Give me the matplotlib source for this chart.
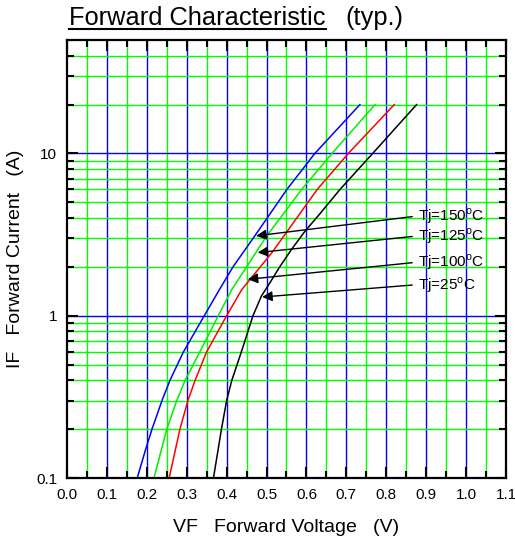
import numpy as np
import matplotlib
matplotlib.use('Agg')
import matplotlib.pyplot as plt
from matplotlib.ticker import FixedLocator, NullFormatter, FixedFormatter

plt.rcParams['font.family'] = ['Liberation Sans', 'DejaVu Sans']
plt.rcParams['mathtext.fontset'] = 'custom'
plt.rcParams['mathtext.rm'] = 'Liberation Sans'

# forward current (A) vs forward voltage (V)
i_150 = [0.1, 0.15, 0.2, 0.3, 0.4, 0.6, 1.0, 1.45, 2.0, 3.09, 6.0, 10, 20]
v_150 = [0.176, 0.197, 0.213, 0.238, 0.258, 0.292, 0.344, 0.382, 0.416, 0.470, 0.551, 0.621, 0.734]

i_125 = [0.1, 0.2, 0.3, 0.4, 0.6, 1.0, 1.45, 2.0, 3.09, 6.0, 10, 20]
v_125 = [0.218, 0.250, 0.275, 0.296, 0.333, 0.379, 0.413, 0.450, 0.500, 0.588, 0.664, 0.772]

i_100 = [0.1, 0.2, 0.3, 0.4, 0.6, 1.0, 1.45, 2.44, 3.09, 6.0, 10, 20]
v_100 = [0.256, 0.283, 0.303, 0.321, 0.350, 0.400, 0.438, 0.513, 0.543, 0.627, 0.705, 0.820]

i_25 = [0.1, 0.2, 0.3, 0.4, 0.6, 1.0, 1.32, 1.59, 2.0, 2.55, 3.31, 4.2, 6.0, 10, 20]
v_25 = [0.367, 0.387, 0.400, 0.413, 0.437, 0.466, 0.487, 0.508, 0.533, 0.562, 0.596, 0.632, 0.684, 0.766, 0.876]

labels = ['Tj=150$^{\\mathregular{o}}$C', 'Tj=125$^{\\mathregular{o}}$C',
          'Tj=100$^{\\mathregular{o}}$C', 'Tj=25$^{\\mathregular{o}}$C']
arrow_tips = [(0.467, 3.09), (0.471, 2.44), (0.446, 1.67), (0.482, 1.30)]
arrow_starts = [(0.872, 4.10), (0.872, 3.09), (0.872, 2.13), (0.872, 1.55)]

x_ticks = [round(0.1 * k, 1) for k in range(12)]
y_ticks = [0.1, 1, 10]
y_ticklabels = ['0.1', '1', '10']

fig = plt.figure(figsize=(5.15, 5.43), dpi=100)
ax = fig.add_axes([0.1301, 0.1197, 0.8524, 0.8066])
ax.set_yscale('log')
ax.set_xlim(0, 1.1)
ax.set_ylim(0.1, 50)

# grid: blue on the main divisions, green in between
for x in x_ticks[1:-1]:
    ax.axvline(x, color='#0000ff', lw=1, zorder=1)
for x in x_ticks[:-1]:
    ax.axvline(x + 0.05, color='#00ff00', lw=1, zorder=1)
for dec in [0.1, 1, 10]:
    if dec > 0.1:
        ax.axhline(dec, color='#0000ff', lw=1, zorder=1)
    for m in range(2, 10):
        if dec * m < 50:
            ax.axhline(dec * m, color='#00ff00', lw=1, zorder=1)

ax.plot(v_150, i_150, color='#0000ff', lw=1.1, zorder=3)
ax.plot(v_125, i_125, color='#00ee00', lw=1.1, zorder=3)
ax.plot(v_100, i_100, color='#ff0000', lw=1.1, zorder=3)
ax.plot(v_25, i_25, color='black', lw=1.1, zorder=3)

for lab, tip, start in zip(labels, arrow_tips, arrow_starts):
    ax.annotate('', xy=tip, xytext=start,
                arrowprops=dict(arrowstyle='-|>', color='black', lw=1, mutation_scale=15), zorder=4)
    ax.text(start[0] + 0.007, start[1], lab, fontsize=11, ha='left', va='center', zorder=5)

ax.xaxis.set_major_locator(FixedLocator(x_ticks))
ax.xaxis.set_minor_locator(FixedLocator([x + 0.05 for x in x_ticks[:-1]]))
ax.set_xticklabels(['%.1f' % x for x in x_ticks])
ax.yaxis.set_major_locator(FixedLocator(y_ticks))
ax.yaxis.set_major_formatter(FixedFormatter(y_ticklabels))
ax.yaxis.set_minor_locator(FixedLocator([d * m for d in [0.1, 1, 10] for m in range(2, 10) if d * m < 50]))
ax.yaxis.set_minor_formatter(NullFormatter())
ax.tick_params(which='both', direction='in', top=True, right=True, width=1.5, labelsize=11, colors='black')
ax.tick_params(which='major', length=8, pad=7)
ax.tick_params(which='minor', length=5)
for s in ax.spines.values():
    s.set_linewidth(1.6)
    s.set_zorder(6)

fig.text(0.5545, 0.029, 'VF   Forward Voltage   (V)', fontsize=14, ha='center', va='center')
fig.text(0.031, 0.523, 'IF   Forward Current   (A)', fontsize=14, ha='center', va='center', rotation=90)

title = fig.text(0.134, 0.967, 'Forward Characteristic', fontsize=18.3, ha='left', va='center')
fig.text(0.670, 0.967, '(typ.)', fontsize=18.3, ha='left', va='center')

# underline the title
fig.canvas.draw()
bb = title.get_window_extent().transformed(fig.transFigure.inverted())
fig.add_artist(plt.Line2D([bb.x0, bb.x1], [bb.y0 + 0.001, bb.y0 + 0.001], color='black', lw=1.5))

fig.savefig('out.png', dpi=100)
